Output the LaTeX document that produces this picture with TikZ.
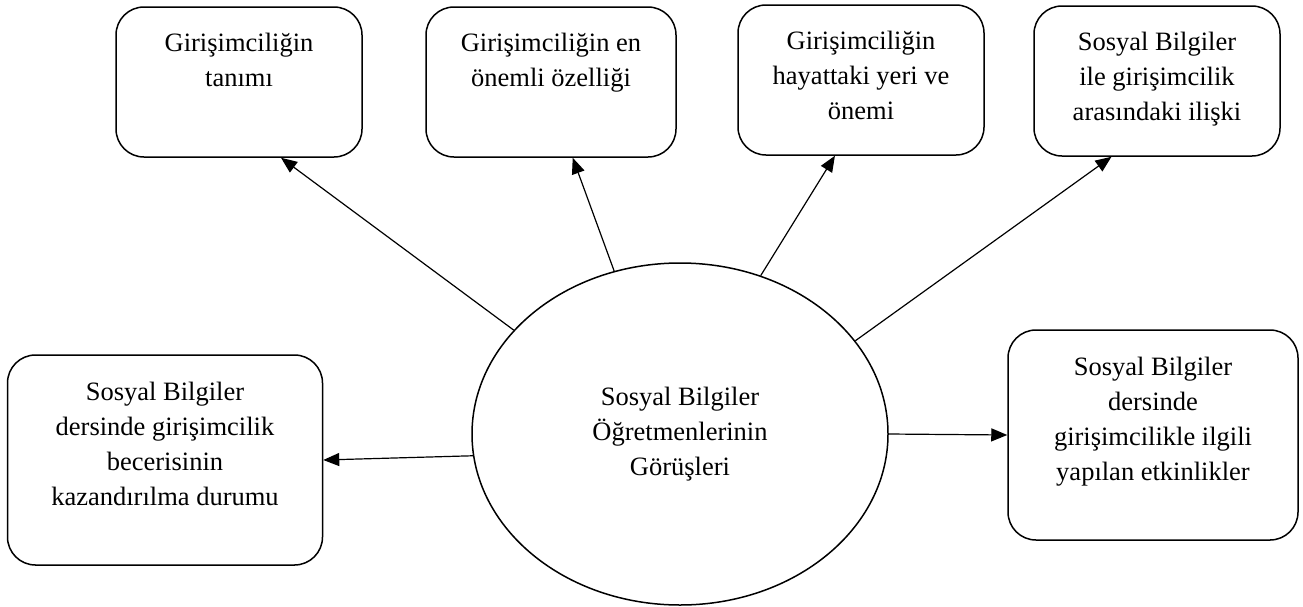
\documentclass[tikz,border=0pt]{standalone}
\usepackage{fontspec}
\setmainfont{Liberation Serif}
\usetikzlibrary{shapes.geometric,arrows.meta}

\begin{document}
\begin{tikzpicture}[x=1pt,y=-1pt,
	caja/.style={draw, line width=1.5pt, rounded corners=28pt, minimum width=246pt, minimum height=150pt},
	texto/.style={align=center, font=\fontsize{26.5}{35}\selectfont, anchor=north, inner sep=0pt, yshift=-27pt},
	flecha/.style={line width=1.2pt, -{Triangle[length=16pt,width=13pt]}}]
	
	% Marco
	\useasboundingbox (0,0) rectangle (1303,606);
	
	% Elipse central
	\node[ellipse, draw, line width=1.5pt, minimum width=416pt, minimum height=342pt,
		align=center, font=\fontsize{26.5}{35}\selectfont] (centro) at (680,434)
		{Sosyal Bilgiler\\Öğretmenlerinin\\Görüşleri};
	
	% Cajas de arriba
	\node[caja, label={[texto]north:{Girişimciliğin\\tanımı}}] (tanim) at (239,82) {};
	\node[caja, minimum width=250pt, label={[texto]north:{Girişimciliğin en\\önemli özelliği}}] (ozellik) at (551,82) {};
	\node[caja, label={[texto]north:{Girişimciliğin\\hayattaki yeri ve\\önemi}}] (onem) at (861,80) {};
	\node[caja, label={[texto]north:{Sosyal Bilgiler\\ile girişimcilik\\arasındaki ilişki}}] (iliski) at (1157,81) {};
	
	% Cajas de los lados
	\node[caja, minimum width=315pt, minimum height=210pt,
		label={[texto, yshift=-1pt]north:{Sosyal Bilgiler\\dersinde girişimcilik\\becerisinin\\kazandırılma durumu}}] (beceri) at (165,460) {};
	\node[caja, minimum width=290pt, minimum height=210pt,
		label={[texto, yshift=-1pt]north:{Sosyal Bilgiler\\dersinde\\girişimcilikle ilgili\\yapılan etkinlikler}}] (etkinlik) at (1153,435) {};
	
	% Flechas
	\draw[flecha] (centro.148) -- (tanim.-61);
	\draw[flecha] (centro.112) -- (ozellik.-74);
	\draw[flecha] (centro.63) -- (onem.-109);
	\draw[flecha] (centro.28) -- (iliski.-121);
	\draw[flecha] (centro.186) -- (beceri.east);
	\draw[flecha] (centro.east) -- (etkinlik.west);
	
\end{tikzpicture}
\end{document}
